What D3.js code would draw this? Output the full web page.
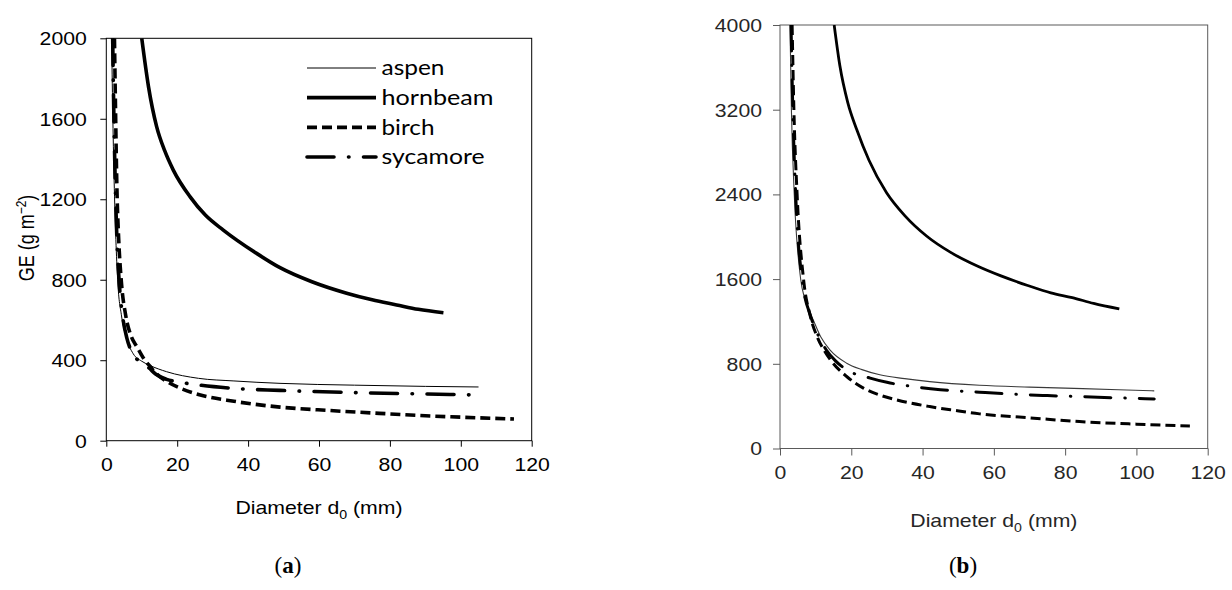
<!DOCTYPE html>
<html><head><meta charset="utf-8">
<script src="https://cdn.jsdelivr.net/npm/d3@7"></script>
<style>body{margin:0;background:#fff}</style>
</head><body>
<svg id="c" width="1232" height="590" xmlns="http://www.w3.org/2000/svg"></svg>
<script>
// ---------- data ----------
const xTicks = [0, 20, 40, 60, 80, 100, 120];
const yTicksA = [0, 400, 800, 1200, 1600, 2000];
const yTicksB = [0, 800, 1600, 2400, 3200, 4000];
const species = ["aspen", "hornbeam", "birch", "sycamore"];

// panel (a): [diameter mm, GE g m-2]
const aspenA = [[1.5,2000],[1.8,1650],[2.2,1300],[2.7,1000],[3.2,800],[4.3,620],[5.5,520],[7.6,432],[10,395],[12.3,374],[17,343],[26,310],[36,297],[49,285],[70,276],[90,270],[105,267]];
const hornbeamA = [[10,2000],[11.9,1760],[14.2,1561],[16.5,1440],[18.9,1345],[23.6,1213],[28,1120],[33,1047],[42.4,931],[49,860],[58,790],[67.8,733],[75,700],[81.9,675],[88,653],[95.1,636]];
const birchA = [[2.3,2000],[2.6,1650],[3,1250],[3.5,1000],[4.2,800],[5.5,620],[7,520],[8.6,468],[10.5,410],[12.3,370],[14,335],[17,295],[21,260],[26,230],[36,196],[49,167],[63,150],[77,136],[90,124],[100,117],[115,108]];
const sycamoreA = [[1.8,2000],[2.1,1650],[2.5,1300],[3,1000],[3.6,800],[4.6,620],[5.8,510],[7.5,432],[9.5,392],[12,362],[14,330],[17,305],[21,290],[26,277],[36,260],[49,250],[70,239],[90,232],[105,227]];

// panel (b)
const aspenB = [[2.8,4000],[3.2,3200],[4,2400],[5.8,1600],[7,1406],[9.3,1217],[11.5,1050],[14,932],[18.7,806],[23,745],[28,696],[35,660],[42,632],[56,597],[70,580],[80,570],[95,555],[105,544]];
const hornbeamB = [[15.2,4000],[16.8,3615],[19,3270],[21.5,3015],[25,2720],[29.9,2416],[35,2200],[41.2,2005],[48,1850],[55.5,1721],[62,1630],[69.5,1540],[76,1470],[82,1425],[88,1370],[95.2,1318]];
const birchB = [[3.4,4000],[3.9,3200],[4.8,2400],[6.6,1600],[8.5,1250],[10.5,1050],[12.5,920],[14.5,822],[18.7,680],[23.4,570],[28,505],[32.7,459],[42,396],[49,360],[56,327],[70,290],[84,254],[100,230],[115,213]];
const sycamoreB = [[3.1,4000],[3.6,3200],[4.4,2400],[6.2,1600],[8.6,1250],[11,1050],[13,930],[15.5,830],[18.7,743],[25.3,665],[30,625],[37.4,585],[45,556],[56,532],[65.5,513],[75,500],[84,490],[95,478],[105,468]];

// ---------- drawing ----------
const svg = d3.select("#c");
const S = 1.18; // horizontal stretch of the original figure's text
const SANS = "'Liberation Sans', Arial, sans-serif";
const fmt = d3.format("d");

function panel(cfg) {
  const g = svg.append("g");
  const x = d3.scaleLinear().domain([0, 120]).range([cfg.x0, cfg.x1]);
  const y = d3.scaleLinear().domain([0, cfg.ymax]).range([cfg.y0, cfg.y1]);

  const clipId = "clip" + cfg.id;
  svg.append("defs").append("clipPath").attr("id", clipId)
    .append("rect").attr("x", cfg.x0).attr("y", cfg.y1)
    .attr("width", cfg.x1 - cfg.x0).attr("height", cfg.y0 - cfg.y1);

  // axes
  const xa = g.append("g").attr("transform", `translate(0,${cfg.y0})`)
    .call(d3.axisBottom(x).tickValues(xTicks).tickFormat(fmt).tickSize(cfg.tick).tickSizeOuter(0));
  xa.select(".domain").remove();
  xa.attr("font-family", SANS).attr("font-size", 18);
  xa.selectAll("line").attr("stroke", cfg.axisColor);
  xa.selectAll("text").attr("y", cfg.xLabBase).attr("dy", 0)
    .attr("fill", cfg.textColor).attr("transform", `scale(${S},1)`);

  const ya = g.append("g").attr("transform", `translate(${cfg.x0},0)`)
    .call(d3.axisLeft(y).tickValues(cfg.yTicks).tickFormat(fmt).tickSize(cfg.tick).tickSizeOuter(0));
  ya.select(".domain").remove();
  ya.attr("font-family", SANS).attr("font-size", 18);
  ya.selectAll("line").attr("stroke", cfg.axisColor);
  ya.selectAll("text").attr("x", -cfg.yLabOff / S).attr("dy", "0.36em")
    .attr("fill", cfg.textColor).attr("transform", `scale(${S},1)`);

  // frame
  g.append("rect").attr("x", cfg.x0).attr("y", cfg.y1)
    .attr("width", cfg.x1 - cfg.x0).attr("height", cfg.y0 - cfg.y1)
    .attr("fill", "none").attr("stroke", cfg.axisColor).attr("stroke-width", 1);

  // curves
  const line = d3.line().x(d => x(d[0])).y(d => y(d[1])).curve(d3.curveMonotoneX);
  const cg = g.append("g").attr("clip-path", `url(#${clipId})`);
  cfg.series.forEach((s, i) => {
    const st = cfg.styles[i];
    cg.append("path").datum(s).attr("d", line)
      .attr("fill", "none").attr("stroke", st.color)
      .attr("stroke-width", st.w)
      .attr("stroke-dasharray", st.dash || null)
      .attr("stroke-linecap", st.cap || "butt")
      .attr("stroke-linejoin", "round");
  });

  // x title
  const xt = g.append("text")
    .attr("transform", `translate(${(cfg.x0 + cfg.x1) / 2},${cfg.titleBase}) scale(${S},1)`)
    .attr("text-anchor", "middle").attr("font-family", SANS).attr("font-size", 18)
    .attr("fill", cfg.textColor);
  xt.append("tspan").text("Diameter d");
  xt.append("tspan").attr("font-size", 12).attr("dy", 5).text("0");
  xt.append("tspan").attr("dy", -5).text(" (mm)");

  // panel tag
  const tg = g.append("text")
    .attr("x", cfg.tagX).attr("y", cfg.tagBase).attr("text-anchor", "middle")
    .attr("font-family", "'Liberation Serif', 'DejaVu Serif', serif").attr("font-size", 23).attr("fill", "#000");
  tg.append("tspan").text("(");
  tg.append("tspan").attr("font-weight", "bold").text(cfg.tag);
  tg.append("tspan").text(")");
  return {g, x, y};
}

const stylesA = [
  {color: "#000", w: 1},
  {color: "#000", w: 3.6},
  {color: "#000", w: 3.6, dash: "10,5"},
  {color: "#000", w: 3.6, dash: "27,14.5,0.5,14.5", cap: "round"}
];
const stylesB = [
  {color: "#3a3a3a", w: 1.1},
  {color: "#000", w: 2.8},
  {color: "#000", w: 3, dash: "10,5"},
  {color: "#000", w: 3, dash: "26,14,0.5,14", cap: "round"}
];

const A = panel({
  id: "a", x0: 106.3, x1: 531.7, y0: 440.7, y1: 38.3, ymax: 2000, yTicks: yTicksA,
  tick: 6, axisColor: "#000", textColor: "#000", xLabBase: 30, yLabOff: 19.5,
  titleBase: 514, tagX: 288, tagBase: 573, tag: "a",
  series: [aspenA, hornbeamA, birchA, sycamoreA], styles: stylesA
});
const B = panel({
  id: "b", x0: 780, x1: 1207.7, y0: 448.5, y1: 25, ymax: 4000, yTicks: yTicksB,
  tick: 7, axisColor: "#5a5a5a", textColor: "#262626", xLabBase: 31, yLabOff: 18,
  titleBase: 527, tagX: 963, tagBase: 573, tag: "b",
  series: [aspenB, hornbeamB, birchB, sycamoreB], styles: stylesB
});

// y title, panel (a)
const yt = svg.append("text")
  .attr("transform", `translate(34,238) scale(${S},1) rotate(-90)`)
  .attr("text-anchor", "middle").attr("font-family", SANS).attr("font-size", 18).attr("fill", "#000");
yt.append("tspan").text("GE (g m");
yt.append("tspan").attr("font-size", 12).attr("dy", -7).text("\u22122");
yt.append("tspan").attr("dy", 7).text(")");

// legend, panel (a)
const legY = d3.scalePoint().domain(species).range([68, 157]);
const legW = {aspen: 63, hornbeam: 112, birch: 53, sycamore: 103};
const leg = svg.append("g");
species.forEach((name, i) => {
  const st = stylesA[i];
  leg.append("line").attr("x1", 307).attr("x2", 376)
    .attr("y1", legY(name)).attr("y2", legY(name))
    .attr("stroke", st.color).attr("stroke-width", st.w)
    .attr("stroke-dasharray", st.dash || null).attr("stroke-linecap", st.cap || "butt");
  leg.append("text").attr("x", 381.5).attr("y", legY(name)).attr("dy", "0.34em")
    .attr("font-family", "Lato, 'Open Sans', sans-serif").attr("font-size", 22)
    .attr("textLength", legW[name]).attr("lengthAdjust", "spacingAndGlyphs")
    .attr("fill", "#000").text(name);
});
</script>
</body></html>
